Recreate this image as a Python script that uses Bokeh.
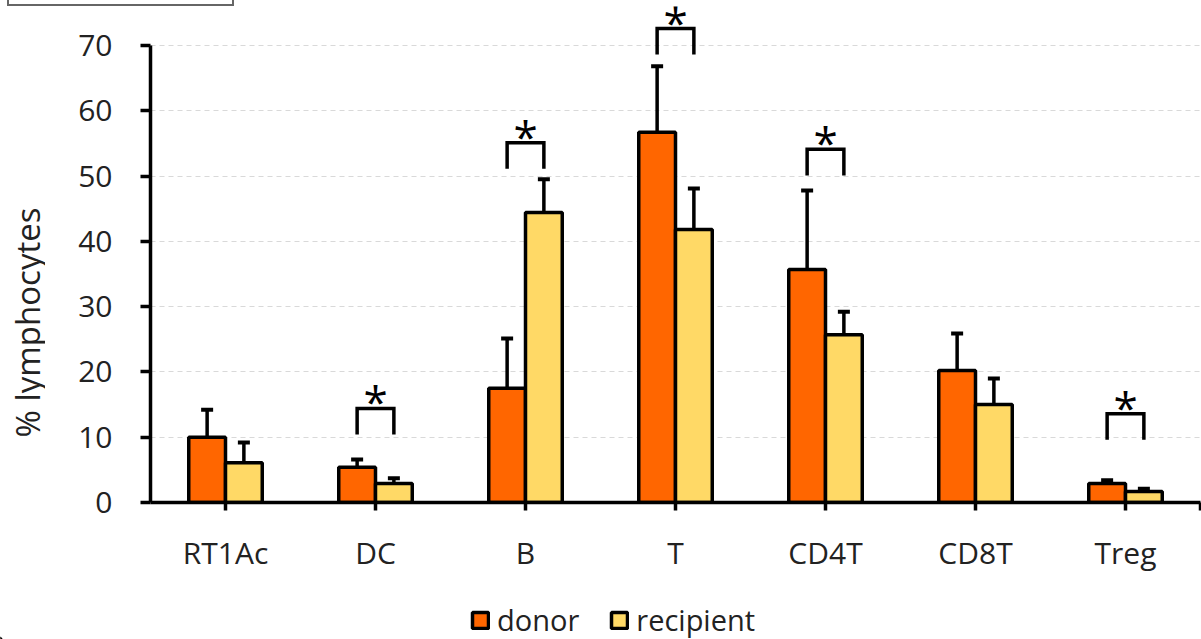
import math
from bokeh.plotting import figure
from bokeh.layouts import column, row
from bokeh.models import FixedTicker, Legend, LegendItem, Range1d, ColumnDataSource, Div
from bokeh.core.properties import value
from bokeh.embed import file_html
from bokeh.resources import INLINE

categories = ["RT1Ac", "DC", "B", "T", "CD4T", "CD8T", "Treg"]
donor = [10.0, 5.4, 17.5, 56.7, 35.7, 20.2, 2.9]
donor_err = [4.2, 1.2, 7.6, 10.1, 12.1, 5.7, 0.5]
recipient = [6.1, 2.9, 44.4, 41.8, 25.7, 15.0, 1.7]
recipient_err = [3.1, 0.8, 5.1, 6.3, 3.5, 4.0, 0.4]
sig_bracket = [None, 14.4, 55.1, 72.6, 54.1, None, 13.6]
y_ticks = [0, 10, 20, 30, 40, 50, 60, 70]
y_label = "% lymphocytes"
series_names = ["donor", "recipient"]

FONT = "Open Sans"
TXT = "#222222"
DONOR_C = "#FF6600"
RECIP_C = "#FFD966"

n = len(categories)
centers = [i + 0.5 for i in range(n)]
bw = 0.245
off = 0.1225
xd = [c - off for c in centers]
xr = [c + off for c in centers]

# ---------------- cropped box at the top edge ----------------
pt = Div(text="", width=227, height=6, margin=(0, 0, 0, 7),
         styles={"border-left": "2px solid #666666", "border-right": "2px solid #666666",
                 "border-bottom": "2px solid #666666", "box-sizing": "border-box"})

# ---------------- main chart ----------------
p = figure(width=1156, height=579, output_backend="svg", toolbar_location=None,
           x_range=Range1d(0, n), y_range=Range1d(0, 75.97),
           min_border_left=105, min_border_right=1, min_border_top=0,
           min_border_bottom=83)
p.outline_line_color = None

src_d = ColumnDataSource(dict(x=xd, top=donor, up=[v + e for v, e in zip(donor, donor_err)]))
src_r = ColumnDataSource(dict(x=xr, top=recipient, up=[v + e for v, e in zip(recipient, recipient_err)]))

rd = p.vbar(x="x", top="top", width=bw, bottom=0, source=src_d, fill_color=DONOR_C,
            line_color="black", line_width=3.5)
rr = p.vbar(x="x", top="top", width=bw, bottom=0, source=src_r, fill_color=RECIP_C,
            line_color="black", line_width=3.5)

cap = 0.04
for s in (src_d, src_r):
    p.segment(x0="x", y0="top", x1="x", y1="up", source=s, line_color="black", line_width=3.5)
    d = s.data
    p.segment(x0=[x - cap for x in d["x"]], y0=d["up"], x1=[x + cap for x in d["x"]], y1=d["up"],
              line_color="black", line_width=4)

leg = 4.0
bx, by, sx, sy = [], [], [], []
for i, b in enumerate(sig_bracket):
    if b is None:
        continue
    bx.append([xd[i], xd[i], xr[i], xr[i]])
    by.append([b - leg, b, b, b - leg])
    sx.append(centers[i])
    sy.append(b)
p.multi_line(bx, by, line_color="black", line_width=3.5, line_join="miter")
p.text(x=sx, y=sy, text=["*"] * len(sx), text_align="center", text_baseline="alphabetic",
       y_offset=-7, text_font_size="44px", text_font=value(FONT), text_color="black")

p.yaxis.ticker = FixedTicker(ticks=y_ticks)
p.yaxis.bounds = (0, 70)
p.yaxis.axis_line_width = 3.5
p.yaxis.major_tick_line_width = 3.5
p.yaxis.major_tick_out = 10
p.yaxis.major_tick_in = 0
p.yaxis.minor_tick_line_color = None
p.yaxis.major_label_standoff = 28
p.yaxis.major_label_text_font = FONT
p.yaxis.major_label_text_font_size = "30px"
p.yaxis.major_label_text_color = TXT

p.xaxis.ticker = FixedTicker(ticks=centers + [n])
p.xaxis.major_label_overrides = {**{c: lab for c, lab in zip(centers, categories)}, n: ""}
p.xaxis.axis_line_width = 3.5
p.xaxis.major_tick_line_width = 3.5
p.xaxis.major_tick_out = 8
p.xaxis.major_tick_in = 0
p.xaxis.minor_tick_line_color = None
p.xaxis.major_label_standoff = 21
p.xaxis.major_label_text_font = FONT
p.xaxis.major_label_text_font_size = "30px"
p.xaxis.major_label_text_color = TXT

p.xgrid.grid_line_color = None
p.ygrid.ticker = FixedTicker(ticks=y_ticks[1:])
p.ygrid.grid_line_color = "#D9D9D9"
p.ygrid.grid_line_dash = "5 4"
p.ygrid.grid_line_width = 1.2

# ---------------- y-axis title (frame aligned with the chart's frame) ----------------
pl = figure(width=45, height=579, output_backend="svg", toolbar_location=None,
            x_range=Range1d(0, 45), y_range=Range1d(0, 496),
            x_axis_type=None, y_axis_type=None, min_border=0)
pl.outline_line_color = None
pl.grid.visible = False
pl.text(x=[27], y=[180], text=[y_label], angle=math.pi / 2, text_align="center",
        text_baseline="middle", text_font=value(FONT), text_font_size="33px", text_color=TXT)

# ---------------- legend ----------------
pg = figure(width=1201, height=54, output_backend="svg", toolbar_location=None,
            x_range=Range1d(0, 1201), y_range=Range1d(0, 54),
            x_axis_type=None, y_axis_type=None, min_border=0)
pg.outline_line_color = None
pg.grid.visible = False
gd = pg.vbar(x=[-100], top=[1], width=1, fill_color=DONOR_C, line_color="black", line_width=3.5)
gr = pg.vbar(x=[-100], top=[1], width=1, fill_color=RECIP_C, line_color="black", line_width=3.5)
legend = Legend(items=[LegendItem(label=series_names[0], renderers=[gd]),
                       LegendItem(label=series_names[1], renderers=[gr])],
                orientation="horizontal", location=(470, 0))
legend.label_text_font = FONT
legend.label_text_font_size = "29px"
legend.label_text_color = TXT
legend.glyph_width = 20
legend.glyph_height = 20
legend.label_standoff = 7
legend.spacing = 30
legend.border_line_color = None
legend.background_fill_alpha = 0
legend.margin = 0
legend.padding = 0
pg.add_layout(legend, "center")

layout = column(pt, row(pl, p, spacing=0), pg, spacing=0)
open("out.html", "w").write(file_html(layout, INLINE))
